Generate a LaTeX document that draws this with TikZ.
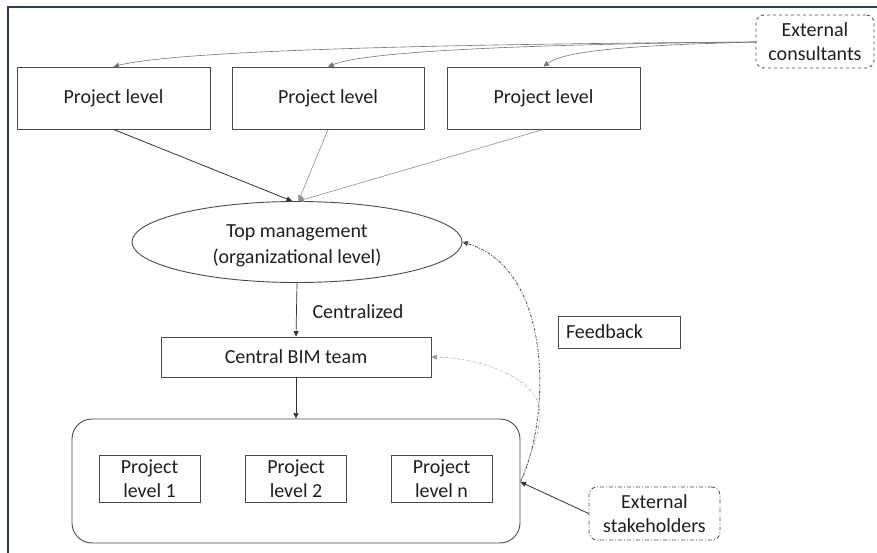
\documentclass[tikz,border=0pt]{standalone}
\usepackage{fontspec}
\setmainfont{Carlito}
\usetikzlibrary{arrows.meta,shapes.geometric}

\definecolor{framenavy}{HTML}{2B3A67}
\definecolor{edge}{HTML}{4A4A4A}
\definecolor{ink}{HTML}{1E1E1E}

\tikzset{
  every node/.style={font=\fontsize{20}{24}\selectfont, text=ink},
  box/.style={draw=edge, line width=0.9pt, inner sep=0pt, align=center},
  roundbox/.style={box, rounded corners=20pt},
  extbox/.style={box, rounded corners=8pt, line width=0.8pt},
  tip/.style={-{Triangle[length=5.5pt,width=5pt]}},
  solidarrow/.style={tip, draw=black!80, line width=0.8pt},
  lightarrow/.style={tip, draw=black!45, line width=0.6pt},
  fbmain/.style={tip, draw=black!70, line width=0.8pt,
    dash pattern=on 3pt off 1.5pt on 1pt off 1.5pt},
  fblight/.style={tip, draw=black!40, line width=0.6pt,
    dash pattern=on 2pt off 1.5pt on 0.7pt off 1.5pt},
}

\begin{document}
\begin{tikzpicture}[x=1pt, y=-1pt]
  \useasboundingbox (0,0) rectangle (877,553);

  % page frame (left and top rules)
  \draw[framenavy, line width=1.4pt] (8,553) -- (8,7) -- (877,7);

  % external consultants
  \node[extbox, dashed, minimum width=118pt, minimum height=53pt]
    (cons) at (815,41.5) {External\\consultants};
  \coordinate (consout) at (756,42);

  % project level boxes
  \node[box, minimum width=193pt, minimum height=62pt] (pl1) at (113.5,98) {Project level};
  \node[box, minimum width=192pt, minimum height=62pt] (pl2) at (328,98) {Project level};
  \node[box, minimum width=193pt, minimum height=62pt] (pl3) at (543.5,98) {Project level};

  % top management
  \node[box, ellipse, minimum width=330pt, minimum height=81pt]
    (tm) at (297,242) {};
  \node[align=center, font=\fontsize{20}{26}\selectfont] (tmtext) at (297,246)
    {Top management\\(organizational level)};
  \coordinate (tmin1) at (292,201);
  \coordinate (tmin2) at (298.5,201);

  % central BIM team
  \node[box, minimum width=270pt, minimum height=40pt] (bim) at (296,357) {Central BIM team};
  \node (cent) at (358,312) {Centralized};

  % project levels container
  \node[roundbox, minimum width=448pt, minimum height=124pt] (pool) at (296,481) {};
  \node[box, minimum width=101pt, minimum height=47pt] (p1) at (149.5,478.5) {Project\\level 1};
  \node[box, minimum width=101pt, minimum height=47pt] (p2) at (296,478.5) {Project\\level 2};
  \node[box, minimum width=101pt, minimum height=47pt] (pn) at (441.5,478.5) {Project\\level n};
  \coordinate (poolr) at (520.5,482);

  % feedback label
  \node[box, minimum height=32pt, text width=106pt, inner xsep=8pt, align=left,
    line width=0.8pt] (fb) at (619,332) {Feedback};

  % external stakeholders
  \node[extbox, dash pattern=on 4pt off 2pt on 1pt off 2pt,
    minimum width=131pt, minimum height=53pt]
    (stake) at (654.5,513.5) {External\\stakeholders};

  % consultants to project levels
  \draw[lightarrow, draw=black!55] (consout) .. controls (450,44) and (180,50) .. (pl1.north);
  \draw[lightarrow, draw=black!55] (consout) .. controls (550,44) and (370,50) .. (pl2.north);
  \draw[lightarrow, draw=black!55] (consout) .. controls (640,45) and (565,50) .. (pl3.north);

  % project levels to top management
  \draw[solidarrow] (pl1.south) -- (tmin1);
  \draw[lightarrow] (pl2.south) -- (tmin2);
  \draw[lightarrow] (pl3.south) -- (tmin2);

  % centralized flow
  \draw[solidarrow, line width=0.7pt] (tm.south) -- (bim.north);
  \draw[solidarrow, line width=0.6pt] (bim.south) -- (pool.north);

  % stakeholders into the project levels
  \draw[solidarrow] (stake.west) -- (poolr);

  % feedback loops
  \draw[fbmain] (poolr) .. controls (550,420) and (555,270) .. (tm.east);
  \draw[fblight] (poolr) .. controls (536,440) and (545,418) .. (537,400)
    .. controls (526,376) and (480,358) .. (bim.east);
\end{tikzpicture}
\end{document}
